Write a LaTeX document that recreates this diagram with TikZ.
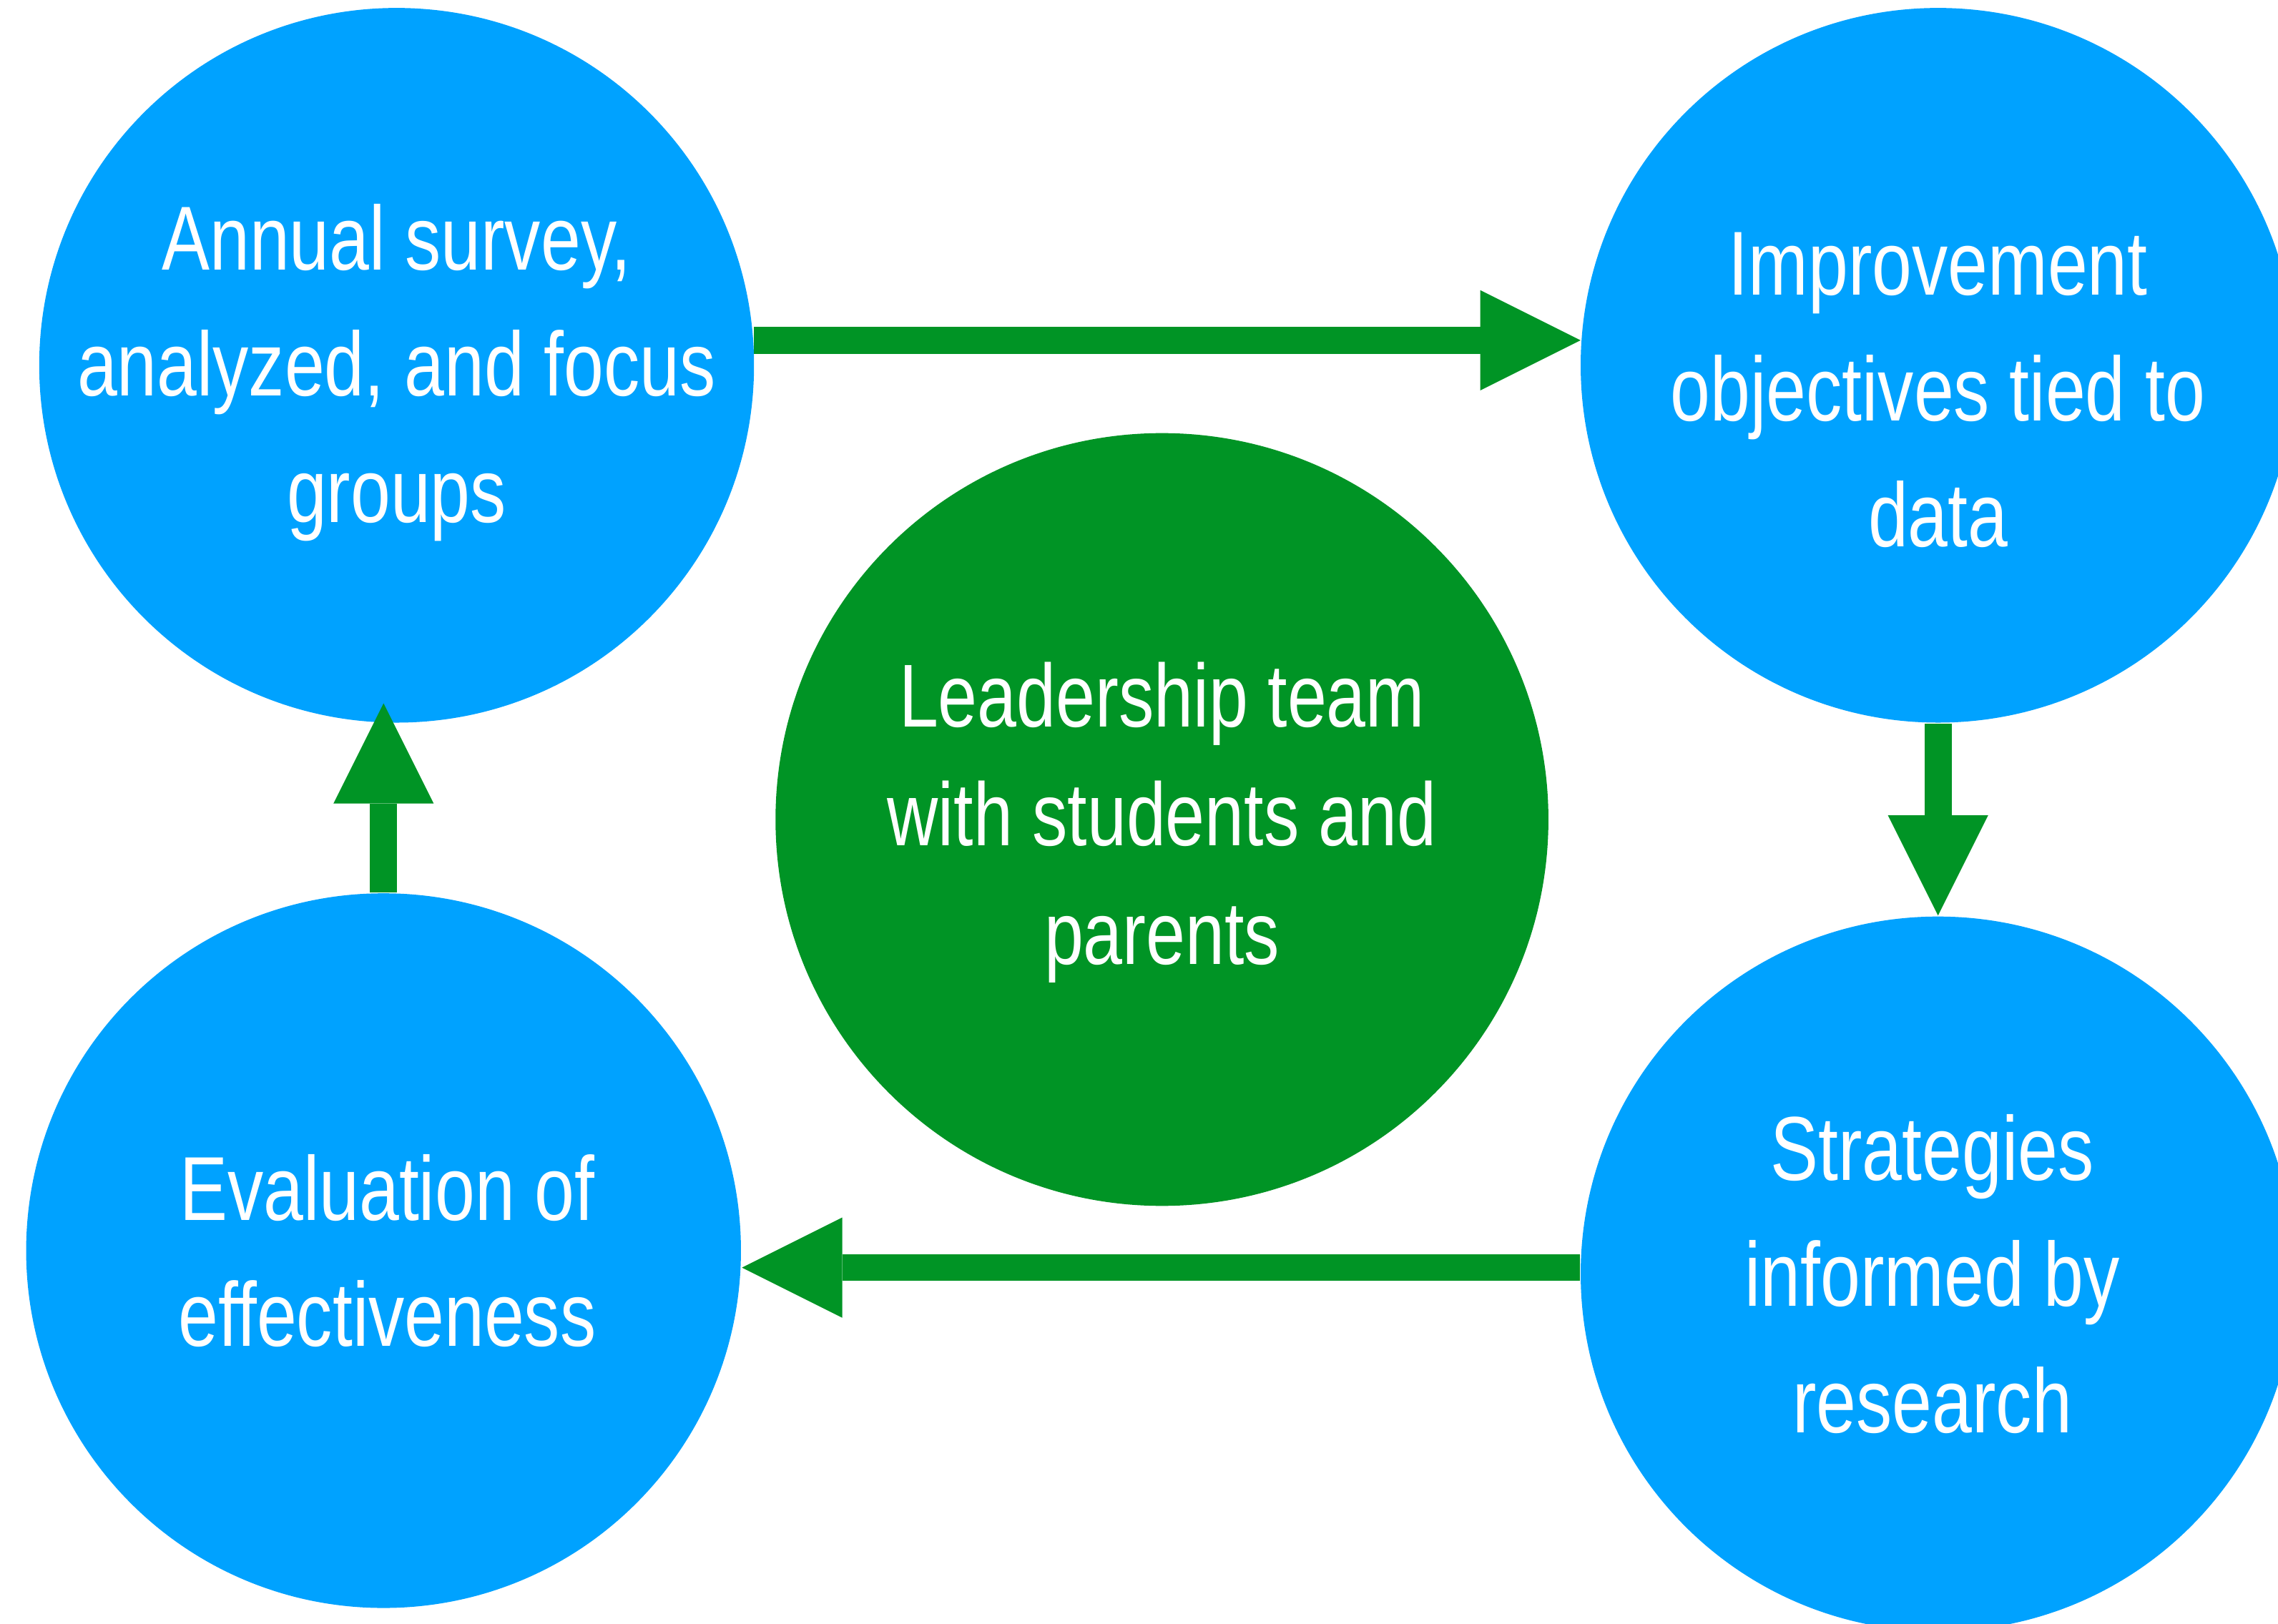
\documentclass[tikz,border=0pt]{standalone}
\usepackage{fontspec}
\setmainfont{Liberation Sans}[FakeStretch=0.79]
\definecolor{cycblue}{HTML}{00A2FF}
\definecolor{cycgreen}{HTML}{009425}
\usetikzlibrary{arrows.meta}
\tikzset{
	stage/.style={circle, fill=cycblue, minimum size=4.92cm, inner sep=0pt},
	hub/.style={circle, fill=cycgreen, minimum size=5.32cm, inner sep=0pt},
	stagetext/.style={text=white, align=center, inner sep=0pt,
		font=\fontsize{17.8}{24.7}\selectfont},
	hubtext/.style={stagetext, font=\fontsize{17.5}{23.3}\selectfont},
	flow/.style={-{Triangle[length=6.9mm, width=6.9mm, line width=0pt]},
		line width=1.85mm, draw=cycgreen}
}

\begin{document}
\begin{tikzpicture}
	\useasboundingbox (0,0) rectangle (15.68,11.18);
	% the four stages and the team in the middle
	\node[stage] (annual) at (2.73,8.665) {};
	\node[stage] (improve) at (13.34,8.665) {};
	\node[stage] (strat) at (13.34,2.41) {};
	\node[stage] (evalu) at (2.64,2.57) {};
	\node[hub] (team) at (7.998,5.538) {};

	\node[stagetext] (annualtxt) at ([yshift=-0.5mm]annual.center) {Annual survey,\\analyzed, and focus\\groups};
	\node[stagetext] (improvetxt) at ([yshift=-1.7mm]improve.center) {Improvement\\objectives tied to\\data};
	\node[stagetext] (strattxt) at ([xshift=-0.4mm]strat.center) {Strategies\\informed by\\research};
	\node[stagetext] (evalutxt) at ([xshift=0.25mm]evalu.center) {Evaluation of\\effectiveness};
	\node[hubtext] (teamtxt) at ([yshift=-0.2mm]team.center) {Leadership team\\with students and\\parents};

	% cycle arrows
	\draw[flow] (annual.4) -- (improve.176);
	\draw[flow] (improve.south) -- (strat.north);
	\draw[flow] (strat.179) -- (strat.179 -| evalu.east);
	\coordinate (uptip) at ([yshift=1.4mm]annual.south);
	\draw[flow] (evalu.north) -- (evalu.north |- uptip);
\end{tikzpicture}
\end{document}
